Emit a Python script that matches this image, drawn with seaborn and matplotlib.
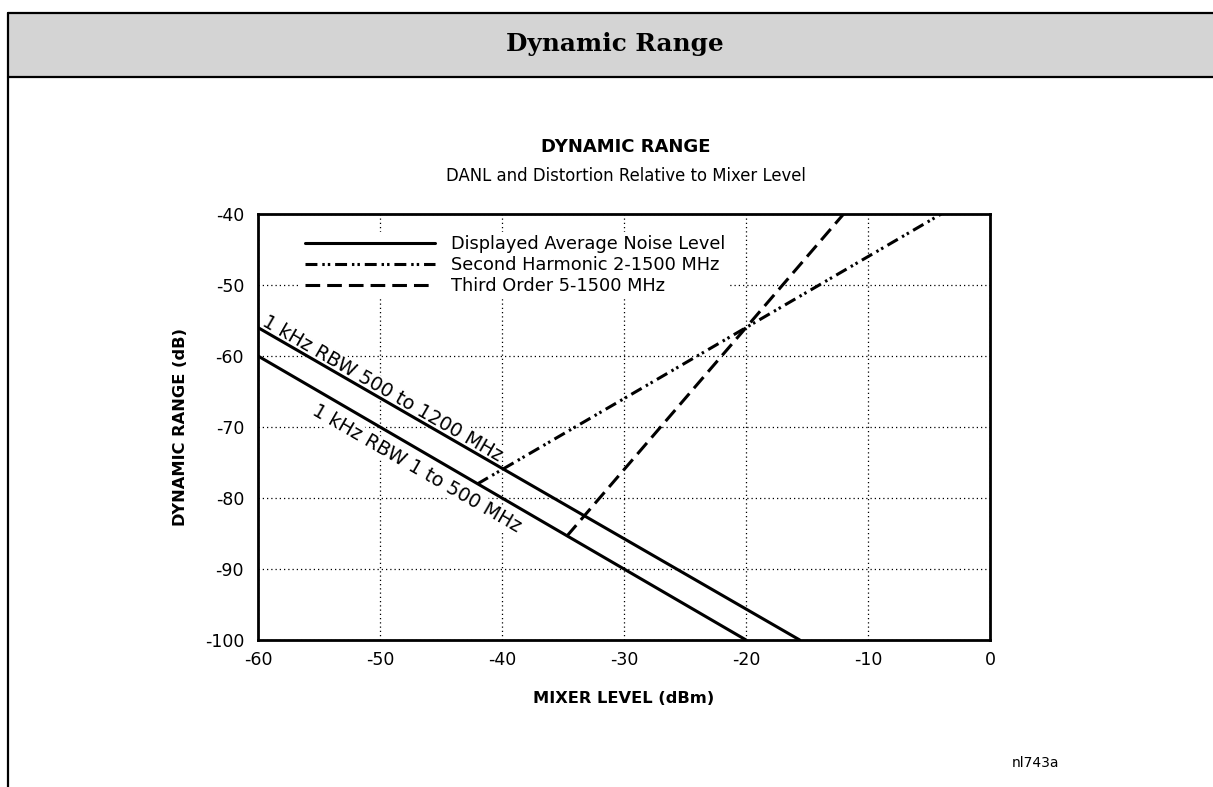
import matplotlib
matplotlib.use('Agg')
import numpy as np
import pandas as pd
import matplotlib.pyplot as plt
import seaborn as sns
from matplotlib.lines import Line2D
from matplotlib.patches import Rectangle

# ---------------- data ----------------
x_ticks = [-60, -50, -40, -30, -20, -10, 0]
y_ticks = [-100, -90, -80, -70, -60, -50, -40]

danl_hi_x = [-60, -15.6]     # 1 kHz RBW 500 to 1200 MHz
danl_hi_y = [-56, -100]
danl_lo_x = [-60, -20]       # 1 kHz RBW 1 to 500 MHz
danl_lo_y = [-60, -100]
shd_x = [-42, -4]            # Second Harmonic 2-1500 MHz
shd_y = [-78, -40]
toi_x = [-34.7, -12]         # Third Order 5-1500 MHz
toi_y = [-85.4, -40]

legend_labels = ["Displayed Average Noise Level",
                 "Second Harmonic 2-1500 MHz",
                 "Third Order 5-1500 MHz"]
label_hi = "1 kHz RBW 500 to 1200 MHz"
label_lo = "1 kHz RBW 1 to 500 MHz"

# ---------------- style ----------------
sns.set_theme(style='white')
plt.rcParams['font.family'] = ['DejaVu Sans']
plt.rcParams['axes.unicode_minus'] = False
plt.rcParams['text.color'] = 'black'
plt.rcParams['axes.labelcolor'] = 'black'
plt.rcParams['xtick.color'] = 'black'
plt.rcParams['ytick.color'] = 'black'

LW = 2.2
solid = '-'
ls_shd = (0, (3.9, 1.6, 0.8, 1.0, 0.8, 1.6))
ls_toi = (0, (4.8, 2.3))

fig = plt.figure(figsize=(12.13, 7.87), dpi=100)
fig.patch.set_facecolor('white')

# header band
fig.add_artist(Rectangle((0.0066, 0.9022), 1.0, 0.0813, transform=fig.transFigure,
                         facecolor='#d4d4d4', edgecolor='none', zorder=0))
fig.add_artist(Line2D([0.0066, 1.0], [0.9835, 0.9835], transform=fig.transFigure,
                      color='black', lw=1.6))
fig.add_artist(Line2D([0.0066, 1.0], [0.9022, 0.9022], transform=fig.transFigure,
                      color='black', lw=1.6))
fig.add_artist(Line2D([0.0066, 0.0066], [0.0, 0.9835], transform=fig.transFigure,
                      color='black', lw=1.6))
fig.text(0.507, 0.944, "Dynamic Range", family='DejaVu Serif', fontweight='bold',
         fontsize=17.8, ha='center', va='center', color='black')

ax = fig.add_axes([0.2127, 0.1868, 0.6035, 0.5413])
ax.set_facecolor('white')

sns.lineplot(x=danl_hi_x, y=danl_hi_y, ax=ax, color='black', lw=LW, linestyle=solid, zorder=4)
sns.lineplot(x=danl_lo_x, y=danl_lo_y, ax=ax, color='black', lw=LW, linestyle=solid, zorder=4)
sns.lineplot(x=shd_x, y=shd_y, ax=ax, color='black', lw=LW, linestyle=ls_shd, zorder=4)
sns.lineplot(x=toi_x, y=toi_y, ax=ax, color='black', lw=LW, linestyle=ls_toi, zorder=4)

ax.set_xlim(-60, 0)
ax.set_ylim(-100, -40)
ax.set_xticks(x_ticks)
ax.set_yticks(y_ticks)
ax.set_xticklabels([str(v) for v in x_ticks])
ax.set_yticklabels([str(v) for v in y_ticks])
ax.grid(True, color='black', lw=0.9, linestyle=(0, (1, 2.4)), zorder=1)
ax.set_axisbelow(True)
ax.tick_params(axis='both', length=0, labelsize=12.5, colors='black')
ax.tick_params(axis='x', pad=8)
ax.tick_params(axis='y', pad=10)
for s in ax.spines.values():
    s.set_visible(True)
    s.set_color('black')
    s.set_linewidth(2.0)

ax.set_xlabel("MIXER LEVEL (dBm)", fontsize=11.7, fontweight='bold', labelpad=16, color='black')
ax.set_ylabel("DYNAMIC RANGE (dB)", fontsize=11.7, fontweight='bold', labelpad=12, color='black')

# titles
fig.text(0.5157, 0.8132, "DYNAMIC RANGE", fontsize=13, fontweight='bold', ha='center', va='center')
fig.text(0.5157, 0.7764, "DANL and Distortion Relative to Mixer Level", fontsize=11.9,
         ha='center', va='center')
fig.text(0.854, 0.031, "nl743a", fontsize=10, ha='center', va='center')

# legend
handles = [Line2D([], [], color='black', lw=LW, linestyle=solid),
           Line2D([], [], color='black', lw=LW, linestyle=ls_shd),
           Line2D([], [], color='black', lw=LW, linestyle=ls_toi)]
leg = ax.legend(handles, legend_labels, loc='upper left', bbox_to_anchor=(0.059, 0.958),
                frameon=True, facecolor='white', edgecolor='none', framealpha=1,
                fontsize=12.8, handlelength=7.3, handletextpad=0.9, labelspacing=0.15,
                borderpad=0.2, borderaxespad=0)
leg.set_zorder(3)
for t in leg.get_texts():
    t.set_color('black')

# rotated curve labels
p0 = ax.transData.transform((danl_hi_x[0], danl_hi_y[0]))
p1 = ax.transData.transform((danl_hi_x[1], danl_hi_y[1]))
ang = np.degrees(np.arctan2(p1[1] - p0[1], p1[0] - p0[0]))
bb = dict(facecolor='white', edgecolor='none', pad=0.5)
ax.text(-49.8, -64.6, label_hi, rotation=ang, rotation_mode='anchor', ha='center', va='center',
        fontsize=13.8, bbox=bb, zorder=2, color='black')
ax.text(-47.0, -75.9, label_lo, rotation=ang, rotation_mode='anchor', ha='center', va='center',
        fontsize=13.8, bbox=bb, zorder=2, color='black')

fig.savefig('out.png', dpi=100, facecolor='white')
